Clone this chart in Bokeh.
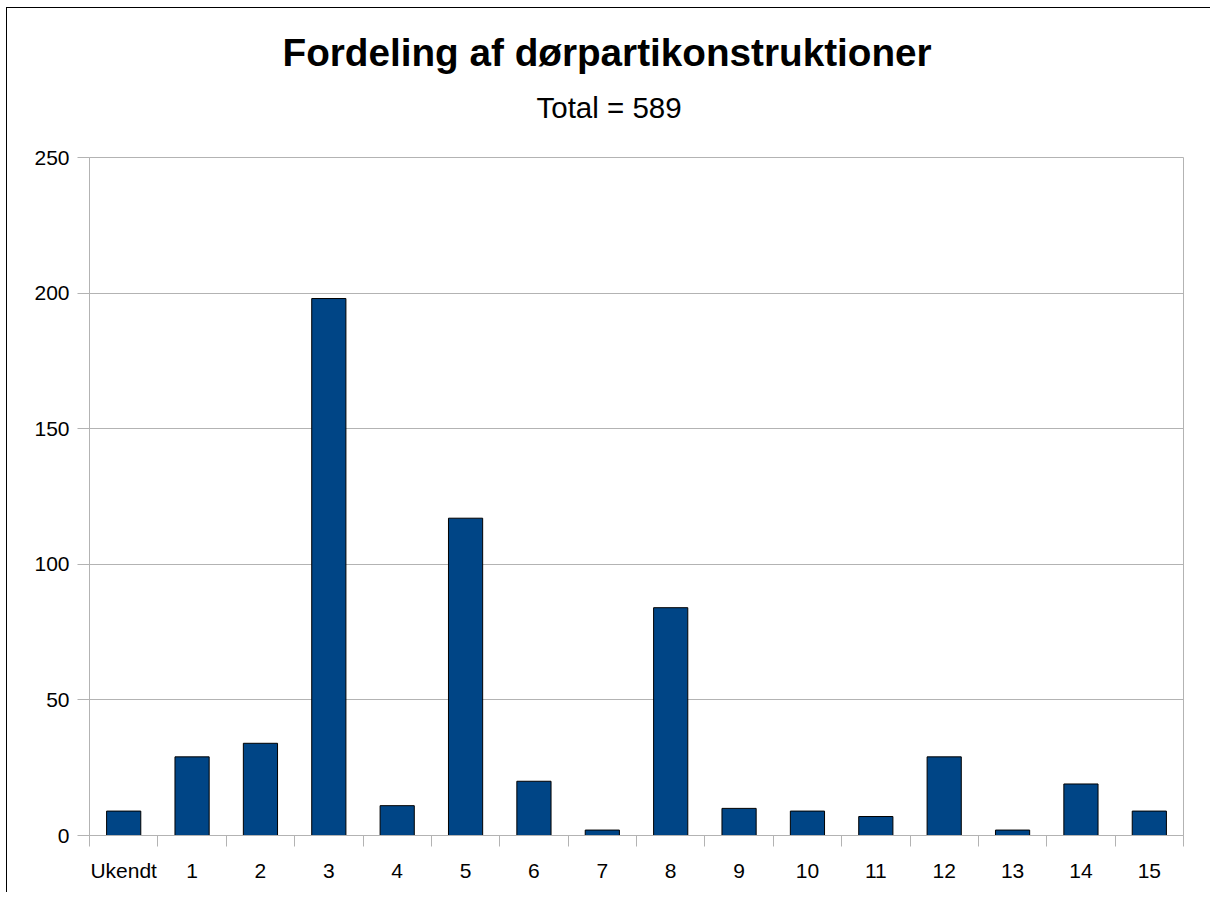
from bokeh.plotting import figure
from bokeh.models import FixedTicker, Range1d, Title
from bokeh.embed import file_html
from bokeh.resources import INLINE

categories = ["Ukendt", "1", "2", "3", "4", "5", "6", "7", "8", "9",
              "10", "11", "12", "13", "14", "15"]
counts = [9, 29, 34, 198, 11, 117, 20, 2, 84, 10, 9, 7, 29, 2, 19, 9]
y_ticks = [0, 50, 100, 150, 200, 250]
title_text = "Fordeling af dørpartikonstruktioner"
subtitle_text = "Total = 589"

FONT = "Liberation Sans"
GRID = "#b3b3b3"

n = len(categories)
centers = [i + 0.5 for i in range(n)]
bounds = list(range(n + 1))

p = figure(width=1210, height=892, output_backend="svg", toolbar_location=None,
           x_range=Range1d(0, n), y_range=Range1d(0, 250),
           title_location=None,
           min_border_left=89, min_border_right=27,
           min_border_top=157, min_border_bottom=57)
p.border_fill_color = None
p.background_fill_color = "white"
p.styles = {
    "background-color": "white",
    "background-image": "linear-gradient(black, black), linear-gradient(black, black)",
    "background-position": "6px 7px, 6px 7px",
    "background-size": "1px 100%, 100% 1px",
    "background-repeat": "no-repeat, no-repeat",
}

p.vbar(x=centers, top=counts, width=0.5, fill_color="#004586",
       line_color="black", line_width=1)

p.outline_line_color = GRID
p.xgrid.visible = False
p.ygrid.grid_line_color = GRID
p.ygrid.ticker = FixedTicker(ticks=y_ticks)

ya = p.yaxis[0]
ya.ticker = FixedTicker(ticks=y_ticks)
ya.axis_line_color = GRID
ya.major_tick_line_color = GRID
ya.major_tick_out = 12
ya.major_tick_in = 0
ya.minor_tick_line_color = None
ya.major_label_text_font = FONT
ya.major_label_text_font_size = "21px"
ya.major_label_text_color = "black"
ya.major_label_standoff = 8

xa = p.xaxis[0]
xa.ticker = FixedTicker(ticks=centers, minor_ticks=bounds)
xa.axis_line_color = GRID
xa.major_tick_line_color = None
xa.major_tick_out = 11
xa.major_tick_in = 0
xa.minor_tick_line_color = GRID
xa.minor_tick_out = 11
xa.minor_tick_in = 0
xa.major_label_overrides = {c: lab for c, lab in zip(centers, categories)}
xa.major_label_text_font = FONT
xa.major_label_text_font_size = "21px"
xa.major_label_text_color = "black"
xa.major_label_standoff = 12

p.add_layout(Title(text=subtitle_text, align="left", offset=447, standoff=68,
                   text_font=FONT, text_font_size="29.5px",
                   text_font_style="normal", text_color="black"), "above")
p.add_layout(Title(text=title_text, align="left", offset=193, standoff=-38,
                   text_font=FONT, text_font_size="38.7px",
                   text_font_style="bold", text_color="black"), "above")

open("out.html", "w").write(file_html(p, INLINE))
